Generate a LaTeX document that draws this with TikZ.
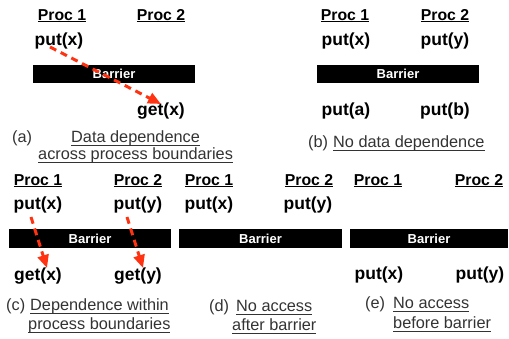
\documentclass[tikz,border=0pt]{standalone}
\usepackage{fontspec}
\setmainfont{Liberation Sans}
\usetikzlibrary{arrows.meta}
\definecolor{arrred}{HTML}{FF3311}
\definecolor{capgray}{HTML}{333333}
\newcommand\ulbold[1]{\setbox0\hbox{#1}\rlap{\rule[-1.8pt]{\wd0}{1.3pt}}\box0}
\newcommand\ulcap[1]{\setbox0\hbox{#1}\rlap{\rule[-3.6pt]{\wd0}{0.7pt}}\box0}
\begin{document}
\begin{tikzpicture}[x=1pt,y=-1pt,
  proc/.style={anchor=base,inner sep=0pt,font=\fontsize{15.8}{15.8}\bfseries},
  op/.style={anchor=base,inner sep=0pt,font=\fontsize{17.5}{17.5}\bfseries},
  captext/.style={anchor=base west,inner sep=0pt,text=capgray,font=\fontsize{16.3}{16.3}\selectfont},
  barrier/.style={fill=black,draw=none},
  btext/.style={inner sep=0pt,text=white,font=\fontsize{13}{13}\bfseries},
  dep/.style={draw=arrred,line width=3pt,dash pattern=on 7pt off 5pt,-{Triangle[length=13pt,width=11pt]}}
]
\useasboundingbox (0,0) rectangle (509,338);
% ---------- panel a
\node[proc] (a1) at (62,20) {\ulbold{Proc 1}};
\node[proc] (a2) at (161,20) {\ulbold{Proc 2}};
\node[op] (aput) at (59,45) {put(x)};
\fill[barrier] (33,65) rectangle (195,83);
\node[btext] (abar) at (114,74) {Barrier};
\node[op] (aget) at (161,115) {get(x)};
\node[captext] (alab) at (12,142) {(a)};
\node[captext] (acap1) at (71,142) {\ulcap{Data dependence}};
\node[captext] (acap2) at (38,159) {\ulcap{across process boundaries}};
\coordinate (as) at (50,47);
\coordinate (ae) at (161,104);
\draw[dep] (as) -- (ae);
% ---------- panel b
\node[proc] (b1) at (345,20) {\ulbold{Proc 1}};
\node[proc] (b2) at (445,20) {\ulbold{Proc 2}};
\node[op] (bputx) at (346,45) {put(x)};
\node[op] (bputy) at (445,45) {put(y)};
\fill[barrier] (317,65) rectangle (479,83);
\node[btext] (bbar) at (398,74) {Barrier};
\node[op] (bputa) at (346,115.5) {put(a)};
\node[op] (bputb) at (445,115.5) {put(b)};
\node[captext] (blab) at (308,147) {(b)};
\node[captext] (bcap) at (333,147) {\ulcap{No data dependence}};
% ---------- panel c
\node[proc] (c1) at (38,185) {\ulbold{Proc 1}};
\node[proc] (c2) at (138,185) {\ulbold{Proc 2}};
\node[op] (cputx) at (38,209) {put(x)};
\node[op] (cputy) at (138,209) {put(y)};
\fill[barrier] (9,229) rectangle (171,248);
\node[btext] (cbar) at (90,238.5) {Barrier};
\node[op] (cgetx) at (38,280) {get(x)};
\node[op] (cgety) at (138,280) {get(y)};
\node[captext] (clab) at (6,310) {(c)};
\node[captext] (ccap1) at (30,310) {\ulcap{Dependence within}};
\node[captext] (ccap2) at (28,329) {\ulcap{process boundaries}};
\coordinate (c1s) at (31,217);
\coordinate (c1e) at (47,268);
\coordinate (c2s) at (127,217);
\coordinate (c2e) at (143,268);
\draw[dep] (c1s) -- (c1e);
\draw[dep] (c2s) -- (c2e);
% ---------- panel d
\node[proc] (d1) at (209,185) {\ulbold{Proc 1}};
\node[proc] (d2) at (309,185) {\ulbold{Proc 2}};
\node[op] (dputx) at (209,209) {put(x)};
\node[op] (dputy) at (308,209) {put(y)};
\fill[barrier] (179,229) rectangle (342,248);
\node[btext] (dbar) at (260.5,238.5) {Barrier};
\node[captext] (dlab) at (209,311) {(d)};
\node[captext] (dcap1) at (236,311) {\ulcap{No access}};
\node[captext] (dcap2) at (232,330) {\ulcap{after barrier}};
% ---------- panel e
\node[proc] (e1) at (378,185) {\ulbold{Proc 1}};
\node[proc] (e2) at (479,185) {\ulbold{Proc 2}};
\fill[barrier] (350,229) rectangle (508,248);
\node[btext] (ebar) at (429,238.5) {Barrier};
\node[op] (eputx) at (379,279) {put(x)};
\node[op] (eputy) at (480,279) {put(y)};
\node[captext] (elab) at (365,308) {(e)};
\node[captext] (ecap1) at (393,308) {\ulcap{No access}};
\node[captext] (ecap2) at (393,328) {\ulcap{before barrier}};
\end{tikzpicture}
\end{document}
